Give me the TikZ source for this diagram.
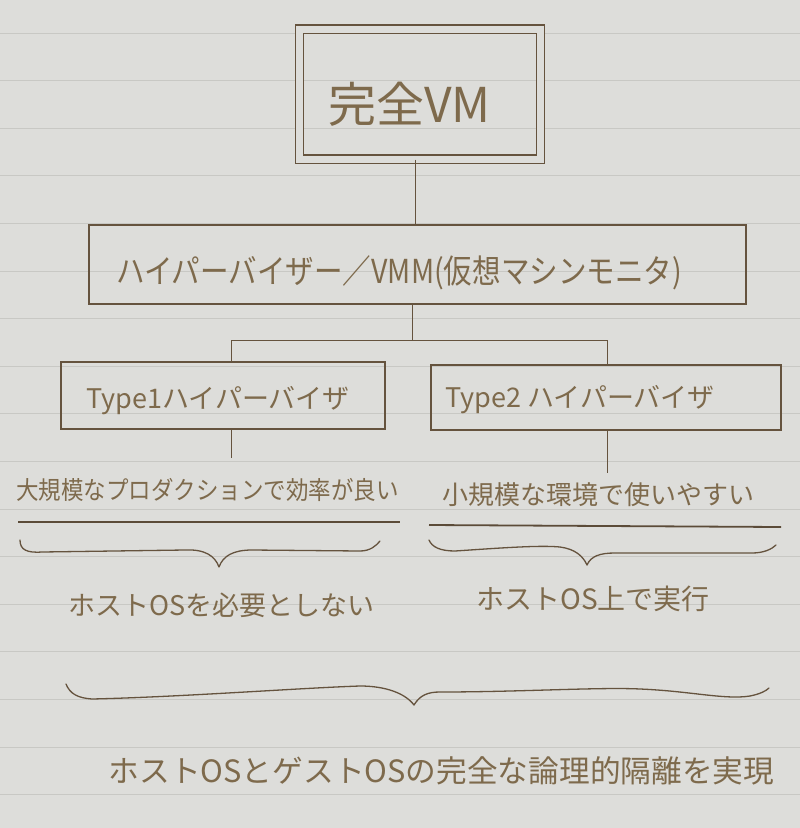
\documentclass[tikz,border=0pt]{standalone}
\usepackage{fontspec}
\setmainfont{Noto Sans CJK JP}
\definecolor{paper}{HTML}{DDDDDA}
\definecolor{ruled}{HTML}{C8C8C4}
\definecolor{ink}{HTML}{65533E}
\definecolor{txt}{HTML}{7E6A4C}
\begin{document}
\begin{tikzpicture}[x=1pt,y=-1pt,
  box/.style={draw=ink, line width=1.2pt, inner sep=0pt},
  conn/.style={draw=ink, line width=1pt},
  uline/.style={draw=ink!90!black, line width=1.8pt},
  brace/.style={draw=ink, line width=1.3pt, line cap=round, line join=round},
  lbl/.style={text=txt, inner sep=0pt},
  fs/.style={font=\fontsize{#1}{#1}\selectfont}]
\fill[paper] (0,0) rectangle (800,828);
\useasboundingbox (0,0) rectangle (800,828);
\foreach \k in {0,...,16}
  \draw[ruled, line width=0.8pt] (0,{33+47.6*\k}) -- (800,{33+47.6*\k});

% boxes
\node[box, double=paper, double distance=7pt, minimum width=241pt, minimum height=130pt] (top) at (420,94) {};
\node[box, minimum width=657pt, minimum height=79pt] (vmm) at (417.5,264.5) {};
\node[box, minimum width=324pt, minimum height=67pt] (t1) at (223,395.5) {};
\node[box, minimum width=350pt, minimum height=65pt] (t2) at (606,397.5) {};

% texts
\node[lbl, fs=48] (ttop) at (409.5,104) {完全VM};
\node[lbl, fs=33, xscale=0.865] (tvmm) at (399,273) {ハイパーバイザー／VMM(仮想マシンモニタ)};
\node[lbl, fs=27] (tt1) at (218,401) {Type1ハイパーバイザ};
\node[lbl, fs=27] (tt2) at (580,400) {Type2 ハイパーバイザ};
\node[lbl, fs=25, xscale=0.9] (p1) at (207.5,490) {大規模なプロダクションで効率が良い};
\node[lbl, fs=26] (p2) at (598,495) {小規模な環境で使いやすい};
\node[lbl, fs=27] (q1) at (221.5,605) {ホストOSを必要としない};
\node[lbl, fs=28] (q2) at (593,599) {ホストOS上で実行};
\node[lbl, fs=30.7] (fin) at (441.5,771) {ホストOSとゲストOSの完全な論理的隔離を実現};

% connectors
\coordinate (j) at (412,340);
\coordinate (j1) at (231,340);
\coordinate (j2) at (607,340);
\coordinate (e1) at (231,458);
\coordinate (e2) at (607,473);
\draw[conn] ([xshift=-5pt]top.south) -- ([xshift=-5pt]top.south |- vmm.north);
\draw[conn] (vmm.south -| j) -- (j);
\draw[conn] (j1) -- (j2);
\draw[conn] (j1) -- (j1 |- t1.north);
\draw[conn] (j2) -- (j2 |- t2.north);
\draw[conn] (e1 |- t1.south) -- (e1);
\draw[conn] (e2 |- t2.south) -- (e2);

% underlines
\coordinate (u1a) at (18,522);
\coordinate (u1b) at (400,522);
\coordinate (u2a) at (429,525);
\coordinate (u2b) at (781,527);
\draw[uline] (u1a) -- (u1b);
\draw[uline] (u2a) -- (u2b);

% braces
\draw[brace] (20,540) .. controls (20,550) and (27,553) .. (42,552)
  -- (185,550) .. controls (205,549) and (215,556) .. (219,567)
  .. controls (223,556) and (233,550) .. (252,550)
  -- (360,551) .. controls (370,551) and (376,546) .. (380,541);
\draw[brace] (429,540) .. controls (432,547) and (440,551) .. (455,551)
  .. controls (500,548) and (540,545) .. (560,547)
  .. controls (575,549) and (583,556) .. (587,565)
  .. controls (591,556) and (600,553) .. (615,553)
  -- (752,553) .. controls (764,553) and (772,549) .. (776,545);
\draw[brace] (66,684) .. controls (70,694) and (78,698) .. (92,699)
  .. controls (180,697) and (300,688) .. (360,686)
  .. controls (385,686) and (405,693) .. (414,705)
  .. controls (420,695) and (428,692) .. (440,692)
  .. controls (520,692) and (600,687) .. (640,689)
  .. controls (690,691) and (725,700) .. (750,696)
  .. controls (760,694) and (766,691) .. (769,688);
\end{tikzpicture}
\end{document}
